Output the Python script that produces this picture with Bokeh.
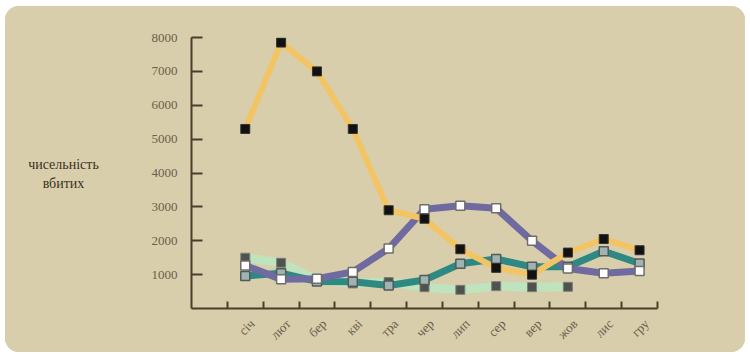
import math
from bokeh.plotting import figure
from bokeh.layouts import row
from bokeh.models import FixedTicker, Range1d
from bokeh.core.properties import value
from bokeh.embed import file_html
from bokeh.resources import INLINE

months = ["січ", "лют", "бер", "кві", "тра", "чер", "лип", "сер", "вер", "жов", "лис", "гру"]
orange_vals = [5300, 7850, 7000, 5300, 2900, 2650, 1750, 1200, 1000, 1650, 2050, 1720]
purple_vals = [1270, 860, 880, 1080, 1770, 2930, 3030, 2960, 2000, 1180, 1040, 1110]
teal_vals = [960, 1040, 800, 790, 680, 840, 1320, 1460, 1230, 1230, 1690, 1330]
green_vals = [1500, 1350, 850, 740, 780, 630, 550, 660, 630, 640]
y_ticks = [1000, 2000, 3000, 4000, 5000, 6000, 7000, 8000]
y_title = "чисельність\nвбитих"

BG = "#D9CEAB"
AXIS = "#4A3F2C"
LABEL = "#6A604C"
FONT = "Liberation Serif"
H = 346
LEFT_W = 120

x_all = list(range(len(months)))
label_pos = [i + 0.2 for i in x_all]

# narrow figure holding the horizontal y-axis title
t = figure(width=LEFT_W, height=H, output_backend="svg", toolbar_location=None,
           x_range=Range1d(0, LEFT_W), y_range=Range1d(0, H),
           x_axis_type=None, y_axis_type=None, min_border=0)
t.background_fill_color = None
t.border_fill_color = None
t.outline_line_color = None
t.grid.visible = False
t.styles = {"background-color": BG}
t.text(x=[58], y=[H - 174], text=[y_title], text_align="center",
       text_baseline="middle", text_font=value(FONT), text_font_size="14px",
       text_color="#3A3224", text_line_height=1.25)

p = figure(width=740 - LEFT_W, height=H, output_backend="svg", toolbar_location=None,
           x_range=Range1d(-1.5, 11.5), y_range=Range1d(0, 8000),
           min_border_left=186 - LEFT_W, min_border_right=88, min_border_top=31,
           min_border_bottom=44)
p.background_fill_color = None
p.border_fill_color = None
p.outline_line_color = None
p.grid.visible = False
p.styles = {"background-color": BG}

# x axis
xa = p.xaxis[0]
xa.ticker = FixedTicker(ticks=label_pos, minor_ticks=[i - 0.5 for i in range(len(months) + 1)])
xa.major_label_overrides = {pos: m for pos, m in zip(label_pos, months)}
xa.major_tick_line_color = None
xa.minor_tick_in = 7
xa.minor_tick_out = 0
xa.minor_tick_line_color = AXIS
xa.minor_tick_line_width = 2
xa.axis_line_color = AXIS
xa.axis_line_width = 2
xa.major_label_orientation = math.pi / 4
xa.major_label_text_font = FONT
xa.major_label_text_font_size = "13px"
xa.major_label_text_color = LABEL
xa.major_label_standoff = 7

# y axis
ya = p.yaxis[0]
ya.ticker = FixedTicker(ticks=y_ticks)
ya.major_tick_in = 11
ya.major_tick_out = 0
ya.major_tick_line_color = AXIS
ya.major_tick_line_width = 2
ya.minor_tick_line_color = None
ya.axis_line_color = AXIS
ya.axis_line_width = 2
ya.major_label_text_font = FONT
ya.major_label_text_font_size = "13px"
ya.major_label_text_color = LABEL
ya.major_label_standoff = 14

# lines
p.line(x_all[:len(green_vals)], green_vals, line_width=9, color="#BEE3BD",
       line_join="round", line_cap="round")
p.line(x_all, teal_vals, line_width=7, color="#2F8983",
       line_join="round", line_cap="round")
p.line(x_all, purple_vals, line_width=7, color="#6F6AA0",
       line_join="round", line_cap="round")
p.line(x_all, orange_vals, line_width=6, color="#F2C463",
       line_join="round", line_cap="round")

# markers
p.scatter(x_all[:len(green_vals)], green_vals, marker="square", size=9,
          fill_color="#4F524F", line_color="#7C807A", line_width=1)
p.scatter(x_all, teal_vals, marker="square", size=9,
          fill_color="#9FB3B2", line_color="#545A58", line_width=1.5)
p.scatter(x_all, purple_vals, marker="square", size=9,
          fill_color="#FFFFFF", line_color="#6E6E6E", line_width=1.5)
p.scatter(x_all, orange_vals, marker="square", size=9,
          fill_color="#111111", line_color="#333333", line_width=1)

layout = row(t, p, spacing=0)
layout.styles = {"margin-left": "5px", "margin-top": "6px",
                 "border-radius": "14px", "overflow": "hidden",
                 "background-color": BG}

open("out.html", "w").write(file_html(layout, INLINE))
